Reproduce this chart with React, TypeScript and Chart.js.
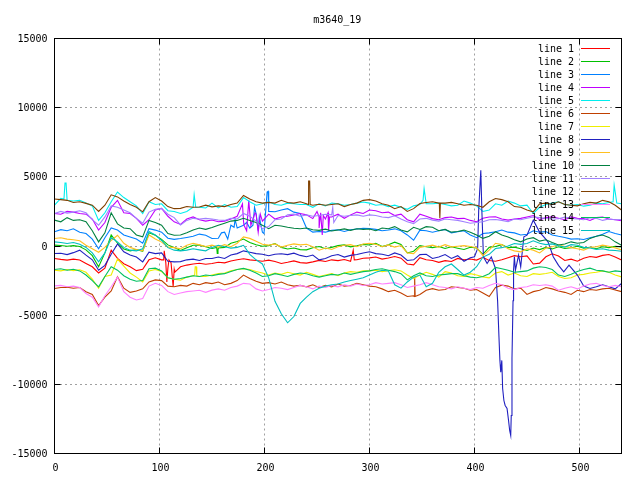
import { useEffect, useRef } from "react";
import { Chart, registerables } from "chart.js";

Chart.register(...registerables);

const FONT = '10px "DejaVu Sans Mono"';
const TITLE = "m3640_19";

// sampled every 6 units along x (10 values per row)
const sampleX = [
  0, 6, 12, 18, 24, 30, 36, 42, 48, 54,
  60, 66, 72, 78, 84, 90, 96, 102, 108, 114,
  120, 126, 132, 138, 144, 150, 156, 162, 168, 174,
  180, 186, 192, 198, 204, 210, 216, 222, 228, 234,
  240, 246, 252, 258, 264, 270, 276, 282, 288, 294,
  300, 306, 312, 318, 324, 330, 336, 342, 348, 354,
  360, 366, 372, 378, 384, 390, 396, 402, 408, 414,
  420, 426, 432, 438, 444, 450, 456, 462, 468, 474,
  480, 486, 492, 498, 504, 510, 516, 522, 528, 534,
  540,
];

const line1 = [
  -900, -970, -1020, -950, -1010, -1260, -1500, -1950, -1600, -300,
  -900, -1280, -1500, -1780, -1680, -1000, -850, -1000, -1600, -1700,
  -1500, -1380, -1300, -1250, -1320, -1260, -1180, -1220, -1080, -990,
  -920, -1000, -1050, -1100, -1020, -1120, -1260, -1180, -1080, -1200,
  -1240, -1150, -1040, -1120, -1000, -1060, -980, -1100, -990, -880,
  -860, -800, -950, -870, -760, -880, -1300, -1360, -840, -1000,
  -1050, -1180, -1060, -1120, -900, -1000, -940, -1020, -820, -1050,
  -1100, -1000, -850, -700, -780, -720, -1300, -1240, -780, -560,
  -720, -1050, -950, -1100, -880, -760, -820, -680, -620, -800,
  -1020,
];
const line2 = [
  60, 40, -20, 30, -40, -280, -700, -1500, -500, 800,
  200, -220, -350, -250, -380, 950, 780, 480, 80, -100,
  -320, -120, 50, 60, -50, -180, -150, -100, 200, 330,
  500, 260, 90, -20, 30, 180, -100, -220, -150, -260,
  -280, -120, -40, -200, -100, 30, 80, -60, 20, 120,
  70, 200, -40, 90, 280, 110, -500, -380, 30, -60,
  -120, -30, -180, -60, -160, -250, -90, -140, -600, -100,
  -40, 100, -120, -80, -200, -320, -150, -260, -100, -210,
  -60, -180, -130, -20, -150, -90, -200, -50, -120, -30,
  -60,
];
const line3 = [
  1030, 1180, 1100, 1240, 1000, 900, 500, -200, 600, 1300,
  1150, 800, 650, 500, 200, 1250, 1150, 1000, 560, 480,
  540, 620, 700, 860, 780, 540, 560, 1000, 1500, 1300,
  1500, 1300, 2350, 1000, 2500, 2480, 2600, 2700, 2450, 2350,
  1300, 1000, 1050, 1000, 1130, 1170, 1050, 1180, 1230, 1280,
  1270, 1200, 1100, 1160, 1240, 1100, 800, 420, 1150, 1100,
  1000, 1100, 1200, 950, 1030, 1100, 800, 600, 900, 950,
  1030, 1150, 1000, 950, 800, 850, 1100, 1000, 1040, 800,
  700, 620, 500, 520, 470, 600, 700, 850, 1050, 900,
  790,
];
const line4 = [
  2350, 2300, 2500, 2450, 2350, 2300, 1950, 1150, 1700, 2800,
  3300, 2400, 2350, 2000, 1500, 1900, 2600, 2720, 2150, 1750,
  1560, 1950, 2100, 1900, 1800, 1880, 1750, 1800, 1950, 2150,
  1800, 2400, 2300, 1800, 2300, 1950, 2100, 2150, 2250, 2350,
  2250, 1980, 2100, 1950, 2100, 2300, 2000, 2250, 2450, 2350,
  2600, 2550, 2400, 2450, 2200, 2300, 1900, 1750, 2300, 2150,
  1980, 1900, 2050, 2100, 1980, 2000, 1850, 1750, 2000, 2100,
  2110, 1950, 1870, 1950, 2000, 2100, 2200, 1900, 2050, 2110,
  2000, 1900, 2100, 2000, 1990, 1850, 2050, 2100, 1950, 1900,
  1820,
];
const line5 = [
  2950, 3450, 3300, 3250, 3300, 3100, 2900, 1850, 2400, 3200,
  3900, 3500, 3200, 2900, 2350, 3200, 3000, 3050, 2550, 2500,
  2350, 2500, 2800, 2800, 2750, 3100, 2750, 3000, 2800, 2850,
  3500, 3200, 2950, 3050, 3200, 3000, 2950, 3100, 3050, 3000,
  3000, 2800, 3050, 2900, 3100, 3050, 2950, 3000, 3100, 3180,
  3100, 2950, 3000, 2850, 2950, 2800, 2650, 2900, 3000, 3050,
  3050, 3100, 3000, 2900, 2950, 3250, 3100, 2900, 2500, 2600,
  3050, 2950, 3250, 3100, 2900, 2950, 2350, 2800, 3000, 3100,
  3200, 3000, 2950, 3000, 2880, 2950, 3100, 3050, 3150, 3900,
  3050,
];
const line6 = [
  -3070, -3000, -2980, -3050, -3000, -3310, -3500, -4300, -3700, -3250,
  -2230, -3050, -3350, -3250, -3100, -2600, -2450, -2500, -2900, -2950,
  -2850, -2900, -2700, -2800, -2650, -2720, -2600, -2800, -2700, -2500,
  -2100, -2350, -2550, -2700, -2650, -2750, -2600, -2800, -2900, -2850,
  -2950, -2800, -3000, -2850, -2950, -2750, -2900, -2850, -2700, -2800,
  -2900, -2950, -3100, -3300, -3200, -3400, -3650, -3600, -3500, -3200,
  -3080, -3200, -3150, -2950, -3000, -3050, -3200, -3150, -3400, -3650,
  -3000, -2830, -2900, -3100, -3050, -3500, -3300, -3200, -3000, -3100,
  -3250, -3350, -3500, -3200, -3300, -3150, -3200, -3100, -3050, -3180,
  -3300,
];
const line7 = [
  -1750, -1800, -1700, -1780, -1720, -1900, -2400, -3050, -2200, -2100,
  -950, -1450, -1950, -2250, -2600, -1800, -1700, -1850, -2300, -2400,
  -2470, -2250, -2150, -2200, -2200, -2100, -2000, -1950, -1800, -1700,
  -1650, -1700, -1850, -1950, -2100, -1950, -2050, -1900, -2000, -2100,
  -1900, -2050, -2200, -2100, -2000, -2150, -1950, -1850, -1900, -1800,
  -1800, -1750, -1850, -1780, -1720, -1800, -2100, -2350, -2100, -1900,
  -2050, -2250, -1850, -1950, -2150, -2200, -2000, -2100, -2230, -2300,
  -1950, -1850, -2100, -1950, -2150, -2200, -2000, -2050, -1990, -1900,
  -2200, -2350, -2300, -2100, -2050, -1950, -1900, -1800, -1900, -2100,
  -2230,
];
// line 8 has its own x list, the dive around 430 needs closer samples
const line8X = [
  0, 6, 12, 18, 24, 30, 36, 42, 48, 54,
  60, 66, 72, 78, 84, 90, 96, 102, 108, 114,
  120, 126, 132, 138, 144, 150, 156, 162, 168, 174,
  180, 186, 192, 198, 204, 210, 216, 222, 228, 234,
  240, 246, 252, 258, 264, 270, 276, 282, 288, 294,
  300, 306, 312, 318, 324, 330, 336, 342, 348, 354,
  360, 366, 372, 378, 384, 390, 396,
  400, 403, 404, 406, 407, 408.5, 412, 416, 420, 422,
  423.3, 424.2, 425, 426, 426.8, 428, 429.2, 431, 432.4, 433.5,
  434.5, 435, 435.7, 436.7, 437.2, 438, 439, 442, 444, 447,
  450, 456, 462, 466, 470, 475, 480, 485, 490, 498,
  504, 510, 516, 522, 528, 534, 540,
];
const line8 = [
  -540, -520, -620, -480, -300, -660, -1000, -1750, -1400, -600,
  150, -420, -650, -800, -1150, -450, -550, -500, -1100, -1150,
  -1130, -1000, -950, -1050, -900, -900, -800, -900, -650, -550,
  -350, -450, -550, -600, -700, -600, -560, -620, -520, -680,
  -780, -650, -1000, -900, -700, -620, -800, -680, -620, -500,
  -420, -550, -600, -700, -500, -650, -1050, -1000, -620, -600,
  -900, -800, -620, -900, -700, -1100, -850,
  -780, -180, 2590, 5480, 2590, -780, -1260, -800, -1625, -3960,
  -6580, -8270, -9120, -8270, -10300, -11170, -11530, -11750, -12600, -13340,
  -13700, -12250, -8140, -3960, -1750, -780, -1750, -660, -1500, 665,
  785, 1870, 1000, 665, 300, -780, -1400, -1865, -1385, -2100,
  -2900, -3070, -2950, -2800, -2950, -3100, -2710,
];
const line9 = [
  540, 600, 500, 450, 380, 60, -200, -450, -100, 400,
  780, 200, -100, -250, -350, 800, 500, 280, -80, -120,
  -200, 50, 200, 80, -40, 60, -80, 100, -50, 200,
  660, 550, 350, 120, 60, 150, -80, 60, 150, 80,
  130, -50, -300, -150, -250, -60, 50, 100, -50, 150,
  200, 120, -50, 80, -80, 30, -500, -550, -100, -20,
  60, -80, 100, -60, -20, 30, -40, -120, -700, -300,
  200, 100, -200, -350, -420, -200, -300, -500, -150, -50,
  90, -40, -120, -200, -300, -100, -50, 60, -20, -150,
  -280,
];
const line10 = [
  1870, 1750, 2050, 1850, 1900, 1750, 1100, 300, 950, 2400,
  1600, 1300, 1250, 800, 660, 1850, 1700, 1500, 900, 780,
  790, 950, 1150, 1300, 1200, 1340, 1500, 1650, 1800, 1850,
  2000, 1850, 1700, 1500, 1250, 1500, 1450, 1350, 1280, 1250,
  1300, 1180, 1130, 1220, 1080, 1160, 1240, 1130, 1250, 1200,
  1230, 1100, 1300, 1250, 1400, 1150, 1020, 1350, 1200, 1400,
  1350, 1100, 1200, 1000, 1050, 1150, 1000, 800, 550, 700,
  1030, 800, 650, 450, 300, 500, 600, 350, 450, 250,
  70, 150, 300, 200, 250, 550, 700, 790, 620, 300,
  60,
];
const line11 = [
  2350, 2500, 2380, 2450, 2550, 2400, 1900, 1500, 2100, 2900,
  2800, 2600, 2400, 2000, 1650, 2450, 2650, 2720, 2300, 2050,
  1520, 1850, 2000, 1950, 2000, 1950, 1880, 1850, 2000, 1950,
  2350, 2150, 1800, 1250, 1400, 1900, 1950, 2250, 2300, 2150,
  2250, 2150, 2200, 2300, 2250, 2200, 2150, 2200, 2250, 2150,
  2250, 2200, 2100, 2050, 2180, 1950, 1750, 1620, 1950, 2000,
  1870, 1800, 1950, 1900, 1850, 1750, 1650, 1700, 1750, 1900,
  1920, 1850, 1750, 1950, 1900, 2000, 2100, 2050, 1990, 1950,
  1970, 2100, 2000, 1950, 1900, 2050, 2000, 1850, 1950, 1900,
  1920,
];
const line12 = [
  3400, 3350, 3300, 3150, 3200, 3080, 2950, 2500, 2950, 3700,
  3550, 3250, 3000, 2800, 2470, 3200, 3500, 3250, 2850, 2700,
  2720, 2850, 2800, 2820, 2950, 2830, 2900, 2850, 3000, 3100,
  3650, 3400, 3200, 3100, 3150, 3100, 3300, 3150, 3100, 3200,
  3050, 2950, 3020, 2950, 3000, 3050, 2850, 3000, 3100, 3300,
  3350, 3250, 3050, 2950, 2700, 2850, 2500, 2700, 3070, 3150,
  3200, 3100, 3100, 3150, 3050, 2950, 3000, 2950, 2800, 3200,
  3430, 3350, 3200, 2850, 2800, 2600, 2470, 3050, 3100, 3000,
  3200, 3000, 2950, 2900, 3050, 3150, 3100, 3300, 3200, 2950,
  2600,
];
const line13 = [
  -2880, -2850, -2950, -2900, -3000, -3430, -3700, -4400, -3600, -2950,
  -2250, -3300, -3700, -3900, -3800, -2900, -2700, -2850, -3300, -3500,
  -3400, -3300, -3250, -3200, -3350, -3190, -3100, -3200, -3000, -2900,
  -2700, -2750, -3100, -3250, -3150, -3000, -3050, -3150, -3000, -2850,
  -2950, -3100, -2900, -3000, -2850, -2950, -2800, -2900, -2750, -2850,
  -2800, -2650, -2750, -2700, -2650, -2800, -3000, -2900, -2800, -2650,
  -2800, -2950, -3000, -3100, -2950, -3050, -3150, -3000, -3050, -2850,
  -2700, -2800, -3050, -3150, -3000, -2950, -2800, -2850, -2800, -2900,
  -3200, -3050, -2950, -3100, -2900, -2750, -2700, -2850, -2950, -2850,
  -2950,
];
const line14 = [
  -1700, -1650, -1750, -1680, -1800, -2100, -2500, -2950, -2200, -1500,
  -1750, -2150, -2400, -2550, -2500, -1650, -1600, -1800, -2300, -2400,
  -2350, -2250, -2150, -2200, -2100, -2150, -2050, -2000, -1850, -1700,
  -1620, -1750, -1950, -2200, -2150, -2000, -2100, -2200, -2050, -1950,
  -2000, -2150, -2250, -2150, -2050, -2100, -1950, -2050, -1950, -1850,
  -1800, -1700, -1650, -1750, -1850, -2000, -2450, -2150, -1950, -2150,
  -2200, -2100, -2050, -2000, -2000, -2150, -2250, -2300, -2200, -2000,
  -1550, -1650, -1750, -1900, -1850, -1800, -1600, -1500, -1550, -1700,
  -2100, -2200, -2050, -1850, -1700, -1600, -1750, -1800, -1900, -1800,
  -1850,
];
const line15 = [
  300, 250, 180, 250, 120, -100, -500, -1150, -500, 600,
  300, -100, -300, -350, -200, 1050, 800, 400, -120, -300,
  -350, -300, -200, -280, -350, -100, 50, -50, -150, -100,
  50, -600, -1000, -1300, -2300, -4000, -4900, -5550, -5100, -4150,
  -3700, -3300, -3050, -2900, -2800, -2750, -2600, -2500, -2400, -2300,
  -2100, -1900, -1750, -1800, -2800, -3050, -2600, -2250, -2100, -2950,
  -2700, -1900, -1500, -1300, -1700, -2100, -1900, -1500, -800, -600,
  -180, -120, 0, 180, 120, 180, 380, 200, 100, 150,
  20, -80, 100, 60, -100, -150, -250, -200, -300, -320,
  -380,
];

// narrow peaks that fall between the regular samples, [x, y]
const line1Peaks = [[104, -1000], [104.5, -350], [106, -1200], [107, -2600], [109, -1000], [111, -1200], [113, -2950], [114.5, -1900], [284.5, -300], [285.5, -1000]];
const line2Peaks = [[154.5, -100], [155, -540], [155.7, -300]];
const line3Peaks = [[159, 950], [165, 500], [171, 1350], [172, 1900], [183, 1700], [189, 1500], [190.5, 2800], [194, 1100], [195, 2100], [199.5, 900], [202.5, 3900], [203.5, 3950]];
const line4Peaks = [[179, 3050], [180.5, 1500], [183, 1100], [185, 3300], [187, 1500], [191, 2400], [194, 1000], [196, 2300], [250, 2500], [252, 1300], [253.5, 2400], [255, 800], [256, 2200], [260.5, 2400], [261, 1100], [262, 2100]];
const line5Peaks = [[9, 3400], [10, 4550], [11, 4550], [133, 3700], [134.5, 2800], [351, 3300], [352, 4150], [353, 3600], [532, 3200], [533, 4400], [535.5, 3100]];
const line6Peaks = [[342.5, -3650], [343, -2250], [343.5, -3650]];
const line7Peaks = [[133.5, -2100], [134, -1500], [135, -1500], [135.5, -2150]];
const line11Peaks = [[265, 2800], [266, 1700]];
const line12Peaks = [[241.5, 3000], [242, 4690], [243, 4690], [243.5, 3000], [366.5, 3100], [367, 2000], [367.5, 3100]];

const lineValues = [line1, line2, line3, line4, line5, line6, line7, line8, line9, line10, line11, line12, line13, line14, line15];
const linePeaks = [line1Peaks, line2Peaks, line3Peaks, line4Peaks, line5Peaks, line6Peaks, line7Peaks, [], [], [], line11Peaks, line12Peaks, [], [], []];
const lineColors = [
  "#ff0000", "#00c000", "#0080ff", "#c000ff", "#00eeee",
  "#c04000", "#eeee00", "#2020c0", "#ffc020", "#008040",
  "#a080ff", "#804000", "#ff80ff", "#00c060", "#00c0c0",
];

// frame, inward ticks and the key, gnuplot style
const framePlugin = {
  id: "frame",
  afterLayout(chart: any) {
    // centre the title over the plot, not the canvas
    chart.titleBlock.left = 53;
  },
  afterDatasetsDraw(chart: any) {
    const { ctx, chartArea: a, scales } = chart;
    ctx.save();
    ctx.strokeStyle = "#000";
    ctx.lineWidth = 1;
    ctx.beginPath();
    for (const t of scales.x.ticks) {
      const px = Math.floor(scales.x.getPixelForValue(t.value)) + 0.5;
      ctx.moveTo(px, a.bottom);
      ctx.lineTo(px, a.bottom - 6);
      ctx.moveTo(px, a.top);
      ctx.lineTo(px, a.top + 6);
    }
    for (const t of scales.y.ticks) {
      const py = Math.floor(scales.y.getPixelForValue(t.value)) + 0.5;
      ctx.moveTo(a.left, py);
      ctx.lineTo(a.left + 6, py);
      ctx.moveTo(a.right, py);
      ctx.lineTo(a.right - 6, py);
    }
    ctx.stroke();
    ctx.strokeRect(a.left, a.top, a.right - a.left, a.bottom - a.top);

    ctx.font = FONT;
    ctx.textAlign = "right";
    ctx.textBaseline = "middle";
    chart.data.datasets.forEach((ds: any, i: number) => {
      const y = 48.5 + i * 13;
      ctx.fillStyle = "#000";
      ctx.fillText(ds.label, 574, y + 1);
      ctx.strokeStyle = ds.borderColor;
      ctx.beginPath();
      ctx.moveTo(581, y);
      ctx.lineTo(610, y);
      ctx.stroke();
    });
    ctx.restore();
  },
};

export default function App() {
  const canvasRef = useRef<HTMLCanvasElement | null>(null);

  useEffect(() => {
    document.body.style.margin = "0";
    if (!canvasRef.current) return;
    const tickStyle = { color: "#000", font: { family: "DejaVu Sans Mono", size: 10 } };
    const chart = new Chart(canvasRef.current, {
      type: "line",
      data: {
        datasets: lineValues.map((values, i) => {
          const xs = values === line8 ? line8X : sampleX;
          const points = values.map((y, j) => ({ x: xs[j], y }));
          for (const [x, y] of linePeaks[i]) points.push({ x, y });
          points.sort((a, b) => a.x - b.x);
          return {
            label: `line ${i + 1}`,
            data: points,
            borderColor: lineColors[i],
            borderWidth: 1.1,
            pointRadius: 0,
            tension: 0,
            // gnuplot paints the later lines over the earlier ones
            order: lineValues.length - i,
          };
        }),
      },
      options: {
        responsive: false,
        animation: false,
        layout: { padding: { right: 18.5 } },
        plugins: {
          legend: { display: false },
          tooltip: { enabled: false },
          title: {
            display: true,
            text: TITLE,
            color: "#000",
            font: { family: "DejaVu Sans Mono", size: 10, weight: "normal", lineHeight: 1.2 },
            padding: { top: 14, bottom: 12.5 },
          },
        },
        scales: {
          x: {
            type: "linear",
            min: 0,
            max: 540,
            ticks: { ...tickStyle, stepSize: 100, includeBounds: false, maxRotation: 0, padding: 9, labelOffset: 1, callback: (v: any) => String(v) },
            grid: { color: "#a0a0a0", drawTicks: false },
            border: { display: false, dash: [2, 3] },
            afterFit: (s: any) => { s.height = 26.5; },
          },
          y: {
            min: -15000,
            max: 15000,
            ticks: { ...tickStyle, stepSize: 5000, padding: 7, labelOffset: 1, callback: (v: any) => String(v) },
            grid: { color: "#a0a0a0", drawTicks: false },
            border: { display: false, dash: [2, 3] },
            afterFit: (s: any) => { s.width = 54.5; },
          },
        },
      } as any,
      plugins: [framePlugin],
    });
    return () => chart.destroy();
  }, []);

  return <canvas ref={canvasRef} width={640} height={480} style={{ display: "block" }} />;
}
